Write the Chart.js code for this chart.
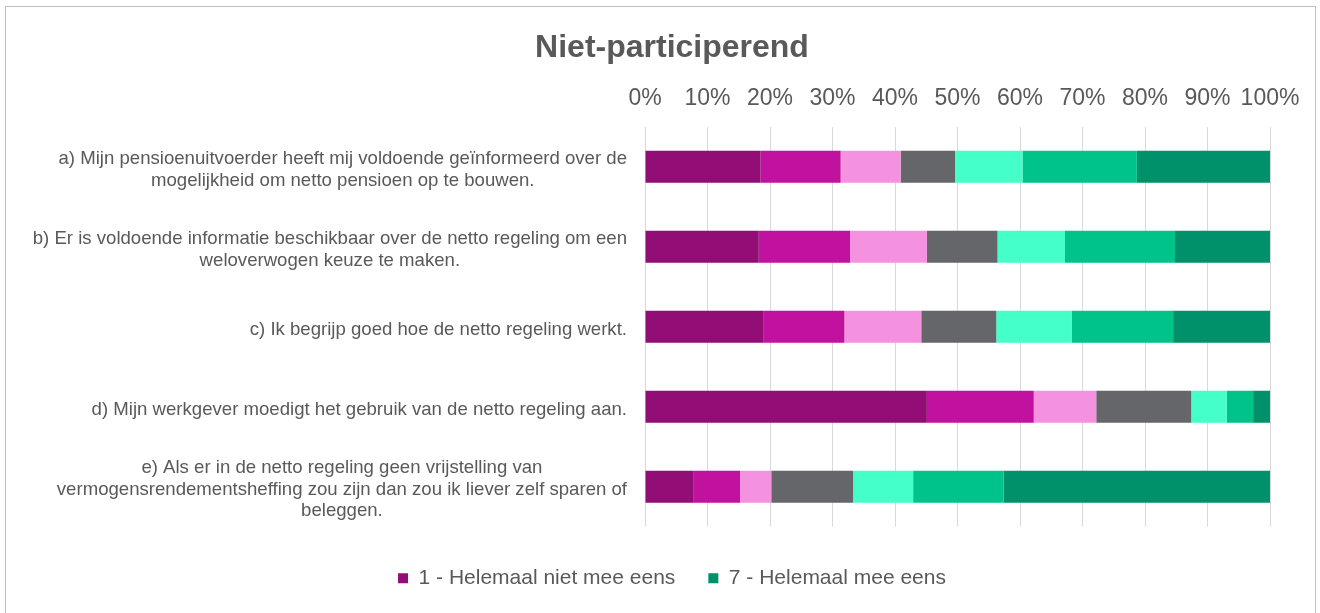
<!DOCTYPE html>
<html>
<head>
<meta charset="utf-8">
<script src="https://cdn.jsdelivr.net/npm/chart.js@4"></script>
<style>
  body { margin: 0; background: #fff; }
  #frame { position: absolute; left: 5px; top: 6px; width: 1309px; height: 700px; border: 1px solid #bfbfbf; }
  #chart { position: absolute; left: 0; top: 0; }
</style>
</head>
<body>
<div id="frame"></div>
<canvas id="chart" width="1320" height="613"></canvas>
<script>
// categories (statements), one label line per array entry
const categories = [
  ["a) Mijn pensioenuitvoerder heeft mij voldoende geïnformeerd over de", "mogelijkheid om netto pensioen op te bouwen."],
  ["b) Er is voldoende informatie beschikbaar over de netto regeling om een", "weloverwogen keuze te maken."],
  ["c) Ik begrijp goed hoe de netto regeling werkt."],
  ["d) Mijn werkgever moedigt het gebruik van de netto regeling aan."],
  ["e) Als er in de netto regeling geen vrijstelling van", "vermogensrendementsheffing zou zijn dan zou ik liever zelf sparen of", "beleggen."],
];

const seriesNames = ["1 - Helemaal niet mee eens", "2", "3", "4", "5", "6", "7 - Helemaal mee eens"];

// shares in %, per statement a..e
const score1 = [18.5, 18.2, 18.9, 45.1, 7.8];
const score2 = [12.8, 14.6, 13.0, 17.1, 7.4];
const score3 = [9.6, 12.3, 12.3, 10.0, 5.0];
const score4 = [8.7, 11.3, 12.0, 15.2, 13.1];
const score5 = [10.8, 10.8, 12.1, 5.7, 9.6];
const score6 = [18.3, 17.6, 16.2, 4.2, 14.5];
const score7 = [21.3, 15.2, 15.5, 2.7, 42.6];

const xTicks = [0, 10, 20, 30, 40, 50, 60, 70, 80, 90, 100];

const colors = ["#920d75", "#c0129e", "#f592e0", "#646669", "#45ffc8", "#00c389", "#00906a"];
const textColor = "#595959";
const fontFamily = "'Liberation Sans', Arial, sans-serif";

const allScores = [score1, score2, score3, score4, score5, score6, score7];

const datasets = allScores.map((values, i) => ({
  label: seriesNames[i],
  data: values,
  backgroundColor: colors[i],
  borderWidth: 0,
  categoryPercentage: 1,
  barPercentage: 0.4,
}));

// draws the statement labels: block right aligned, lines centered inside the block
const statementLabels = {
  id: "statementLabels",
  afterDraw(chart) {
    const ctx = chart.ctx;
    const yScale = chart.scales.y;
    const rightEdge = chart.chartArea.left - 18;
    const lineHeight = 21.5;
    ctx.save();
    ctx.font = "18.6px " + fontFamily;
    ctx.fillStyle = textColor;
    ctx.textAlign = "center";
    ctx.textBaseline = "middle";
    categories.forEach((lines, i) => {
      const yc = yScale.getPixelForValue(i) + 3;
      const blockWidth = Math.max(...lines.map((l) => ctx.measureText(l).width));
      const xc = rightEdge - blockWidth / 2;
      const y0 = yc - ((lines.length - 1) * lineHeight) / 2;
      lines.forEach((l, k) => ctx.fillText(l, xc, y0 + k * lineHeight));
    });
    ctx.restore();
  },
};

new Chart(document.getElementById("chart"), {
  type: "bar",
  data: { labels: categories.map((c) => c.join(" ")), datasets },
  options: {
    indexAxis: "y",
    responsive: false,
    animation: false,
    devicePixelRatio: 1,
    layout: { padding: { left: 74, right: 50, top: 0, bottom: 14.3 } },
    scales: {
      x: {
        stacked: true,
        position: "top",
        min: 0,
        max: 100,
        afterBuildTicks: (axis) => { axis.ticks = xTicks.map((v) => ({ value: v })); },
        ticks: {
          callback: (v) => v + "%",
          color: textColor,
          font: { size: 23, family: fontFamily },
          padding: 14,
          maxRotation: 0,
        },
        grid: { color: "#d9d9d9", lineWidth: 1, drawTicks: false },
        border: { display: false },
        afterFit: (axis) => { axis.height = 54.5; },
      },
      y: {
        stacked: true,
        ticks: { display: false },
        grid: { display: false },
        border: { display: false },
        afterFit: (axis) => { axis.width = 571; },
      },
    },
    plugins: {
      title: {
        display: true,
        text: "Niet-participerend",
        color: textColor,
        font: { size: 32, weight: "bold", family: fontFamily },
        padding: { top: 29.3, bottom: 4.5 },
      },
      legend: {
        position: "bottom",
        labels: {
          filter: (item) => item.datasetIndex === 0 || item.datasetIndex === 6,
          boxWidth: 10,
          boxHeight: 10,
          padding: 33,
          color: textColor,
          font: { size: 21, family: fontFamily },
        },
        title: { display: true, text: "", font: { size: 5 }, padding: { top: 2, bottom: 0 } },
      },
      tooltip: { enabled: false },
    },
  },
  plugins: [statementLabels],
});
</script>
</body>
</html>
